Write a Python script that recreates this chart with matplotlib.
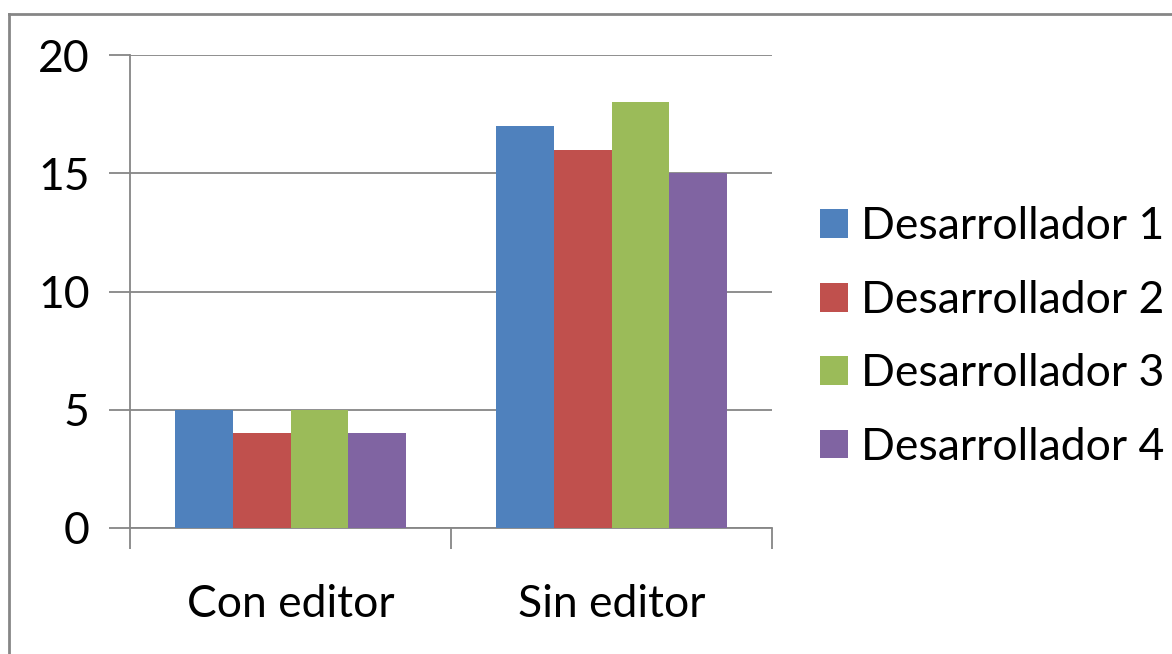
import matplotlib
matplotlib.use("Agg")
import matplotlib.pyplot as plt
from matplotlib.patches import Patch
from matplotlib.lines import Line2D
import numpy as np

categories = ["Con editor", "Sin editor"]
series_names = ["Desarrollador 1", "Desarrollador 2", "Desarrollador 3", "Desarrollador 4"]
dev1 = [5, 17]
dev2 = [4, 16]
dev3 = [5, 18]
dev4 = [4, 15]
yticks = [0, 5, 10, 15, 20]
colors = ["#4F81BD", "#C0504D", "#9BBB59", "#8064A2"]

plt.rcParams['font.family'] = ['Lato', 'DejaVu Sans']

W, H = 1172, 654
fig = plt.figure(figsize=(W / 100, H / 100), dpi=100)
ax = fig.add_axes([130 / W, 1 - 528 / H, (772 - 130) / W, (528 - 55) / H])

x = np.arange(len(categories))
bw = 0.18
values = [dev1, dev2, dev3, dev4]
for i, (vals, c, name) in enumerate(zip(values, colors, series_names)):
    ax.bar(x + (i - 1.5) * bw, vals, width=bw, color=c, label=name, zorder=3)

FS = 32
ax.set_xlim(-0.5, 1.5)
ax.set_ylim(0, 20)
ax.set_yticks(yticks)
ax.set_yticklabels([str(v) for v in yticks], fontsize=FS)
ax.yaxis.grid(True, color="#868686", linewidth=1.3, zorder=0)
ax.set_xticks([-0.5, 0.5, 1.5])
ax.set_xticklabels([])
ax.set_xticks(x, minor=True)
ax.set_xticklabels(categories, minor=True, fontsize=FS)
ax.tick_params(axis='x', which='minor', length=0, pad=40)
ax.tick_params(axis='x', which='major', length=15, width=1.3, color="#868686")
ax.tick_params(axis='y', length=15, width=1.3, color="#868686", pad=14)
for s in ["top", "right"]:
    ax.spines[s].set_visible(False)
for s in ["left", "bottom"]:
    ax.spines[s].set_color("#868686")
    ax.spines[s].set_linewidth(1.3)

# outer border (partially visible)
fig.add_artist(Line2D([8.5 / W, 8.5 / W], [1 - 13.5 / H, -0.1], color="#868686", lw=2, transform=fig.transFigure))
fig.add_artist(Line2D([8.5 / W, 1.1], [1 - 13.5 / H, 1 - 13.5 / H], color="#868686", lw=2, transform=fig.transFigure))

handles = [Patch(facecolor=c, edgecolor='none') for c in colors]
fig.legend(handles, series_names, loc='center left', bbox_to_anchor=(820 / W, 1 - 337 / H),
           frameon=False, fontsize=FS, handlelength=0.62, handleheight=0.62,
           handletextpad=0.3, labelspacing=0.73, borderaxespad=0, borderpad=0)

fig.savefig("out.png", dpi=100)
